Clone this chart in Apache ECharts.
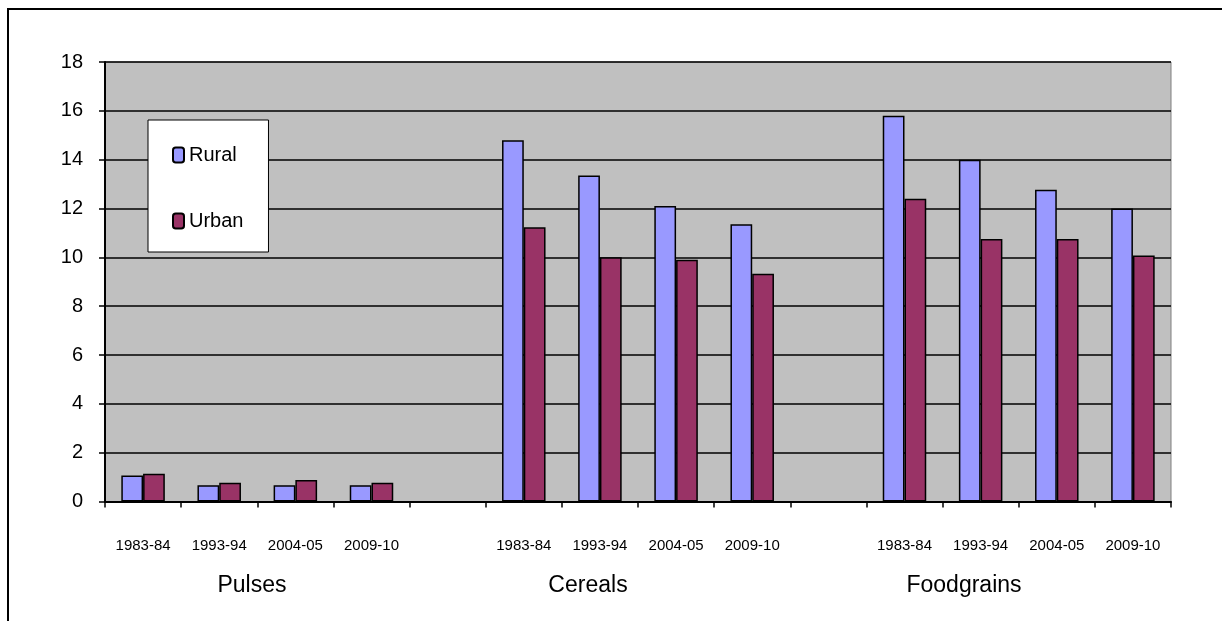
<!DOCTYPE html>
<html>
<head>
<meta charset="utf-8">
<script src="https://cdn.jsdelivr.net/npm/echarts@6/dist/echarts.min.js"></script>
<style>
html,body{margin:0;padding:0;background:#fff;}
#chart{width:1222px;height:621px;}
</style>
</head>
<body>
<div id="chart"></div>
<script>
// ---- data ----
const years = ['1983-84', '1993-94', '2004-05', '2009-10'];
const groups = ['Pulses', 'Cereals', 'Foodgrains'];
const ruralPulses = [1.06, 0.67, 0.67, 0.67];
const urbanPulses = [1.14, 0.77, 0.88, 0.77];
const ruralCereals = [14.8, 13.35, 12.1, 11.35];
const urbanCereals = [11.23, 10.0, 9.9, 9.33];
const ruralFoodgrains = [15.8, 14.0, 12.77, 12.0];
const urbanFoodgrains = [12.4, 10.75, 10.75, 10.07];
const yTicks = [0, 2, 4, 6, 8, 10, 12, 14, 16, 18];

// categories with a blank spacer between groups
const categories = [...years, '', ...years, '', ...years];
const rural = [...ruralPulses, null, ...ruralCereals, null, ...ruralFoodgrains];
const urban = [...urbanPulses, null, ...urbanCereals, null, ...urbanFoodgrains];

const FONT = '"Liberation Sans", Arial, sans-serif';

const chart = echarts.init(document.getElementById('chart'), null, {renderer: 'canvas'});
const groupLabelX = [252, 588, 964];

chart.setOption({
  backgroundColor: '#ffffff',
  animation: false,
  grid: {
    left: 105, top: 62, right: 51, bottom: 119.5,
    show: true, backgroundColor: '#c0c0c0', borderColor: '#808080', borderWidth: 1
  },
  legend: {
    orient: 'vertical',
    left: 148, top: 120,
    backgroundColor: '#ffffff',
    borderColor: '#000000', borderWidth: 1,
    padding: [23, 25, 19, 24],
    itemGap: 42,
    itemWidth: 11, itemHeight: 15,
    textStyle: {fontFamily: FONT, fontSize: 20, color: '#000', lineHeight: 24},
    data: ['Rural', 'Urban']
  },
  xAxis: {
    type: 'category',
    data: categories,
    boundaryGap: true,
    axisLine: {lineStyle: {color: '#000', width: 2}},
    axisTick: {show: true, interval: 0, length: 6, lineStyle: {color: '#000', width: 1.5}},
    axisLabel: {interval: 0, margin: 37, fontFamily: FONT, fontSize: 15, color: '#000'},
    splitLine: {show: false}
  },
  yAxis: {
    type: 'value',
    min: yTicks[0], max: yTicks[yTicks.length - 1], interval: 2,
    axisLine: {show: true, lineStyle: {color: '#000', width: 2}},
    axisTick: {show: true, length: 6, lineStyle: {color: '#000', width: 1.5}},
    axisLabel: {margin: 22, fontFamily: FONT, fontSize: 20, color: '#000'},
    splitLine: {show: true, lineStyle: {color: '#000', width: 1.5}}
  },
  series: [
    {
      name: 'Rural', type: 'bar', data: rural,
      barGap: '0%', barCategoryGap: '42.86%',
      itemStyle: {color: '#9999ff', borderColor: '#000', borderWidth: 1.5}
    },
    {
      name: 'Urban', type: 'bar', data: urban,
      barGap: '0%', barCategoryGap: '42.86%',
      itemStyle: {color: '#993366', borderColor: '#000', borderWidth: 1.5}
    }
  ],
  graphic: [
    {
      type: 'rect', silent: true, z: -1,
      shape: {x: 8, y: 9, width: 1400, height: 800},
      style: {fill: 'none', stroke: '#000', lineWidth: 2}
    },
    ...groups.map((g, i) => ({
      type: 'text',
      x: groupLabelX[i], y: 586,
      style: {text: g, fontFamily: FONT, fontSize: 23, fill: '#000', textAlign: 'center', textVerticalAlign: 'middle'}
    }))
  ]
});
</script>
</body>
</html>
